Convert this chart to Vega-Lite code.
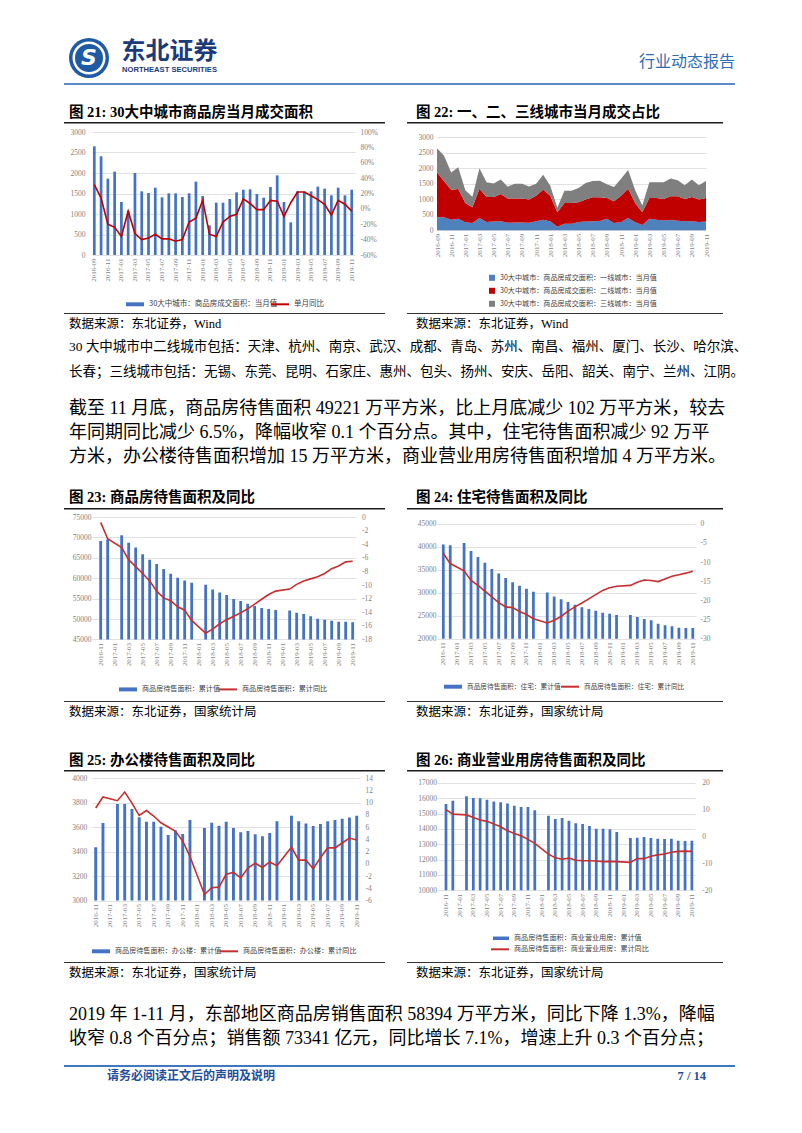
{
"$schema": "https://vega.github.io/schema/vega-lite/v6.json",
"padding": 0,
"background": "white",
"columns": 11,
"spacing": 0,
"align": "each",
"bounds": "flush",
"resolve": {"scale": {"fill": "independent", "stroke": "independent", "color": "independent", "x": "independent", "y": "independent"}, "legend": {"fill": "independent", "stroke": "independent", "color": "independent"}},
"config": {
 "view": {"stroke": null},
 "axis": {"labelFont": "Liberation Serif", "labelFontSize": 7.5, "labelColor": "#7f7f7f", "domain": false, "ticks": false, "gridColor": "#d9d9d9", "gridWidth": 0.8, "labelOverlap": false},
 "legend": {"labelFont": "Noto Sans CJK SC", "labelColor": "#404040", "padding": 0, "labelLimit": 400, "labelFontSize": 7.1}
},
"datasets": {
 "e": [],
 "one": [{}],
 "c21": [{"m":"2016-09","a":2650,"y":31.5},{"m":"2016-10","a":2407,"y":14},{"m":"2016-11","a":1862,"y":-20},{"m":"2016-12","a":2033,"y":-24},{"m":"2017-01","a":1293,"y":-36},{"m":"2017-02","a":1080,"y":-3},{"m":"2017-03","a":2000,"y":-32},{"m":"2017-04","a":1553,"y":-40},{"m":"2017-05","a":1512,"y":-38},{"m":"2017-06","a":1642,"y":-33},{"m":"2017-07","a":1407,"y":-39},{"m":"2017-08","a":1504,"y":-39},{"m":"2017-09","a":1504,"y":-42},{"m":"2017-10","a":1415,"y":-40},{"m":"2017-11","a":1504,"y":-17},{"m":"2017-12","a":1789,"y":-12},{"m":"2018-01","a":1439,"y":11},{"m":"2018-02","a":724,"y":-33},{"m":"2018-03","a":1276,"y":-36},{"m":"2018-04","a":1276,"y":-17},{"m":"2018-05","a":1366,"y":-10},{"m":"2018-06","a":1528,"y":-7},{"m":"2018-07","a":1593,"y":13},{"m":"2018-08","a":1602,"y":7},{"m":"2018-09","a":1488,"y":-1},{"m":"2018-10","a":1398,"y":-1},{"m":"2018-11","a":1659,"y":11},{"m":"2018-12","a":1943,"y":10},{"m":"2019-01","a":1293,"y":-10},{"m":"2019-02","a":797,"y":8},{"m":"2019-03","a":1553,"y":22},{"m":"2019-04","a":1550,"y":22},{"m":"2019-05","a":1553,"y":17},{"m":"2019-06","a":1667,"y":12},{"m":"2019-07","a":1618,"y":6},{"m":"2019-08","a":1455,"y":-8},{"m":"2019-09","a":1642,"y":11},{"m":"2019-10","a":1455,"y":6},{"m":"2019-11","a":1593,"y":-3}],
 "c22": [
{"m":"2016-09","k":1,"t":"一线城市","v":420},{"m":"2016-09","k":2,"t":"二线城市","v":1450},{"m":"2016-09","k":3,"t":"三线城市","v":780},
{"m":"2016-10","k":1,"t":"一线城市","v":420},{"m":"2016-10","k":2,"t":"二线城市","v":1160},{"m":"2016-10","k":3,"t":"三线城市","v":827},
{"m":"2016-11","k":1,"t":"一线城市","v":344},{"m":"2016-11","k":2,"t":"二线城市","v":968},{"m":"2016-11","k":3,"t":"三线城市","v":550},
{"m":"2016-12","k":1,"t":"一线城市","v":376},{"m":"2016-12","k":2,"t":"二线城市","v":957},{"m":"2016-12","k":3,"t":"三线城市","v":700},
{"m":"2017-01","k":1,"t":"一线城市","v":258},{"m":"2017-01","k":2,"t":"二线城市","v":624},{"m":"2017-01","k":3,"t":"三线城市","v":411},
{"m":"2017-02","k":1,"t":"一线城市","v":237},{"m":"2017-02","k":2,"t":"二线城市","v":505},{"m":"2017-02","k":3,"t":"三线城市","v":338},
{"m":"2017-03","k":1,"t":"一线城市","v":398},{"m":"2017-03","k":2,"t":"二线城市","v":946},{"m":"2017-03","k":3,"t":"三线城市","v":656},
{"m":"2017-04","k":1,"t":"一线城市","v":268},{"m":"2017-04","k":2,"t":"二线城市","v":807},{"m":"2017-04","k":3,"t":"三线城市","v":478},
{"m":"2017-05","k":1,"t":"一线城市","v":280},{"m":"2017-05","k":2,"t":"二线城市","v":795},{"m":"2017-05","k":3,"t":"三线城市","v":437},
{"m":"2017-06","k":1,"t":"一线城市","v":290},{"m":"2017-06","k":2,"t":"二线城市","v":882},{"m":"2017-06","k":3,"t":"三线城市","v":470},
{"m":"2017-07","k":1,"t":"一线城市","v":247},{"m":"2017-07","k":2,"t":"二线城市","v":775},{"m":"2017-07","k":3,"t":"三线城市","v":385},
{"m":"2017-08","k":1,"t":"一线城市","v":250},{"m":"2017-08","k":2,"t":"二线城市","v":772},{"m":"2017-08","k":3,"t":"三线城市","v":482},
{"m":"2017-09","k":1,"t":"一线城市","v":250},{"m":"2017-09","k":2,"t":"二线城市","v":772},{"m":"2017-09","k":3,"t":"三线城市","v":482},
{"m":"2017-10","k":1,"t":"一线城市","v":240},{"m":"2017-10","k":2,"t":"二线城市","v":750},{"m":"2017-10","k":3,"t":"三线城市","v":425},
{"m":"2017-11","k":1,"t":"一线城市","v":290},{"m":"2017-11","k":2,"t":"二线城市","v":828},{"m":"2017-11","k":3,"t":"三线城市","v":386},
{"m":"2017-12","k":1,"t":"一线城市","v":344},{"m":"2017-12","k":2,"t":"二线城市","v":968},{"m":"2017-12","k":3,"t":"三线城市","v":477},
{"m":"2018-01","k":1,"t":"一线城市","v":290},{"m":"2018-01","k":2,"t":"二线城市","v":828},{"m":"2018-01","k":3,"t":"三线城市","v":321},
{"m":"2018-02","k":1,"t":"一线城市","v":118},{"m":"2018-02","k":2,"t":"二线城市","v":462},{"m":"2018-02","k":3,"t":"三线城市","v":144},
{"m":"2018-03","k":1,"t":"一线城市","v":215},{"m":"2018-03","k":2,"t":"二线城市","v":667},{"m":"2018-03","k":3,"t":"三线城市","v":394},
{"m":"2018-04","k":1,"t":"一线城市","v":215},{"m":"2018-04","k":2,"t":"二线城市","v":667},{"m":"2018-04","k":3,"t":"三线城市","v":394},
{"m":"2018-05","k":1,"t":"一线城市","v":268},{"m":"2018-05","k":2,"t":"二线城市","v":635},{"m":"2018-05","k":3,"t":"三线城市","v":463},
{"m":"2018-06","k":1,"t":"一线城市","v":280},{"m":"2018-06","k":2,"t":"二线城市","v":710},{"m":"2018-06","k":3,"t":"三线城市","v":538},
{"m":"2018-07","k":1,"t":"一线城市","v":290},{"m":"2018-07","k":2,"t":"二线城市","v":775},{"m":"2018-07","k":3,"t":"三线城市","v":528},
{"m":"2018-08","k":1,"t":"一线城市","v":300},{"m":"2018-08","k":2,"t":"二线城市","v":765},{"m":"2018-08","k":3,"t":"三线城市","v":537},
{"m":"2018-09","k":1,"t":"一线城市","v":376},{"m":"2018-09","k":2,"t":"二线城市","v":667},{"m":"2018-09","k":3,"t":"三线城市","v":445},
{"m":"2018-10","k":1,"t":"一线城市","v":237},{"m":"2018-10","k":2,"t":"二线城市","v":698},{"m":"2018-10","k":3,"t":"三线城市","v":463},
{"m":"2018-11","k":1,"t":"一线城市","v":268},{"m":"2018-11","k":2,"t":"二线城市","v":850},{"m":"2018-11","k":3,"t":"三线城市","v":541},
{"m":"2018-12","k":1,"t":"一线城市","v":398},{"m":"2018-12","k":2,"t":"二线城市","v":946},{"m":"2018-12","k":3,"t":"三线城市","v":599},
{"m":"2019-01","k":1,"t":"一线城市","v":258},{"m":"2019-01","k":2,"t":"二线城市","v":624},{"m":"2019-01","k":3,"t":"三线城市","v":411},
{"m":"2019-02","k":1,"t":"一线城市","v":172},{"m":"2019-02","k":2,"t":"二线城市","v":408},{"m":"2019-02","k":3,"t":"三线城市","v":217},
{"m":"2019-03","k":1,"t":"一线城市","v":376},{"m":"2019-03","k":2,"t":"二线城市","v":667},{"m":"2019-03","k":3,"t":"三线城市","v":510},
{"m":"2019-04","k":1,"t":"一线城市","v":340},{"m":"2019-04","k":2,"t":"二线城市","v":703},{"m":"2019-04","k":3,"t":"三线城市","v":507},
{"m":"2019-05","k":1,"t":"一线城市","v":320},{"m":"2019-05","k":2,"t":"二线城市","v":690},{"m":"2019-05","k":3,"t":"三线城市","v":543},
{"m":"2019-06","k":1,"t":"一线城市","v":330},{"m":"2019-06","k":2,"t":"二线城市","v":767},{"m":"2019-06","k":3,"t":"三线城市","v":570},
{"m":"2019-07","k":1,"t":"一线城市","v":310},{"m":"2019-07","k":2,"t":"二线城市","v":787},{"m":"2019-07","k":3,"t":"三线城市","v":521},
{"m":"2019-08","k":1,"t":"一线城市","v":290},{"m":"2019-08","k":2,"t":"二线城市","v":720},{"m":"2019-08","k":3,"t":"三线城市","v":445},
{"m":"2019-09","k":1,"t":"一线城市","v":290},{"m":"2019-09","k":2,"t":"二线城市","v":785},{"m":"2019-09","k":3,"t":"三线城市","v":567},
{"m":"2019-10","k":1,"t":"一线城市","v":270},{"m":"2019-10","k":2,"t":"二线城市","v":720},{"m":"2019-10","k":3,"t":"三线城市","v":465},
{"m":"2019-11","k":1,"t":"一线城市","v":280},{"m":"2019-11","k":2,"t":"二线城市","v":763},{"m":"2019-11","k":3,"t":"三线城市","v":550}],
 "c23": [{"m":"2016-11","v":69113,"y":-0.8},{"m":"2016-12","v":69539,"y":-3.2},{"m":"2017-02","v":70500,"y":-4.5},{"m":"2017-03","v":68700,"y":-6.3},{"m":"2017-04","v":67500,"y":-7.3},{"m":"2017-05","v":65900,"y":-8.3},{"m":"2017-06","v":64500,"y":-9.4},{"m":"2017-07","v":63500,"y":-10.9},{"m":"2017-08","v":62250,"y":-11.9},{"m":"2017-09","v":61100,"y":-12.3},{"m":"2017-10","v":60100,"y":-13.2},{"m":"2017-11","v":59450,"y":-13.7},{"m":"2017-12","v":58900,"y":-15.2},{"m":"2018-02","v":58400,"y":-17.1},{"m":"2018-03","v":57200,"y":-16.5},{"m":"2018-04","v":56500,"y":-15.7},{"m":"2018-05","v":55900,"y":-15.1},{"m":"2018-06","v":54900,"y":-14.6},{"m":"2018-07","v":54400,"y":-14.1},{"m":"2018-08","v":53750,"y":-13.5},{"m":"2018-09","v":53200,"y":-12.8},{"m":"2018-10","v":52700,"y":-12.1},{"m":"2018-11","v":52450,"y":-11.4},{"m":"2018-12","v":52200,"y":-10.9},{"m":"2019-02","v":52100,"y":-10.6},{"m":"2019-03","v":51550,"y":-9.9},{"m":"2019-04","v":51200,"y":-9.4},{"m":"2019-05","v":50700,"y":-9.1},{"m":"2019-06","v":50050,"y":-8.8},{"m":"2019-07","v":49800,"y":-8.3},{"m":"2019-08","v":49550,"y":-7.6},{"m":"2019-09","v":49300,"y":-7.2},{"m":"2019-10","v":49323,"y":-6.6},{"m":"2019-11","v":49221,"y":-6.5}],
 "c24": [{"m":"2016-11","v":40500,"y":-7.7},{"m":"2016-12","v":40290,"y":-10.4},{"m":"2017-02","v":40800,"y":-12.3},{"m":"2017-03","v":39060,"y":-14.8},{"m":"2017-04","v":37750,"y":-16.1},{"m":"2017-05","v":36520,"y":-17.6},{"m":"2017-06","v":35140,"y":-19.1},{"m":"2017-07","v":34200,"y":-20.6},{"m":"2017-08","v":33190,"y":-21.7},{"m":"2017-09","v":32250,"y":-21.9},{"m":"2017-10","v":31520,"y":-22.9},{"m":"2017-11","v":30870,"y":-23.7},{"m":"2017-12","v":30220,"y":-24.8},{"m":"2018-02","v":30070,"y":-25.9},{"m":"2018-03","v":29200,"y":-25.2},{"m":"2018-04","v":28550,"y":-24.2},{"m":"2018-05","v":27970,"y":-22.8},{"m":"2018-06","v":27390,"y":-21.7},{"m":"2018-07","v":26810,"y":-20.7},{"m":"2018-08","v":26450,"y":-19.6},{"m":"2018-09","v":26090,"y":-18.5},{"m":"2018-10","v":25650,"y":-17.4},{"m":"2018-11","v":25430,"y":-16.7},{"m":"2018-12","v":25140,"y":-16.3},{"m":"2019-02","v":25140,"y":-16.1},{"m":"2019-03","v":24710,"y":-15.3},{"m":"2019-04","v":24280,"y":-14.7},{"m":"2019-05","v":23990,"y":-14.8},{"m":"2019-06","v":23260,"y":-15.1},{"m":"2019-07","v":22900,"y":-14.4},{"m":"2019-08","v":22680,"y":-13.7},{"m":"2019-09","v":22390,"y":-13.3},{"m":"2019-10","v":22320,"y":-12.9},{"m":"2019-11","v":22300,"y":-12.4}],
 "c25": [{"m":"2016-11","v":3435,"y":9.1},{"m":"2016-12","v":3633,"y":10.9},{"m":"2017-02","v":3788,"y":10.3},{"m":"2017-03","v":3788,"y":11.7},{"m":"2017-04","v":3747,"y":9.9},{"m":"2017-05","v":3679,"y":7.9},{"m":"2017-06","v":3644,"y":8.7},{"m":"2017-07","v":3644,"y":7.8},{"m":"2017-08","v":3603,"y":6.7},{"m":"2017-09","v":3535,"y":6.0},{"m":"2017-10","v":3571,"y":5.3},{"m":"2017-11","v":3543,"y":3.7},{"m":"2017-12","v":3658,"y":1.2},{"m":"2018-02","v":3592,"y":-5.0},{"m":"2018-03","v":3636,"y":-3.9},{"m":"2018-04","v":3611,"y":-3.8},{"m":"2018-05","v":3644,"y":-1.7},{"m":"2018-06","v":3592,"y":-1.4},{"m":"2018-07","v":3557,"y":-2.3},{"m":"2018-08","v":3568,"y":-0.7},{"m":"2018-09","v":3541,"y":0.1},{"m":"2018-10","v":3524,"y":-0.6},{"m":"2018-11","v":3552,"y":0.3},{"m":"2018-12","v":3647,"y":-0.3},{"m":"2019-02","v":3693,"y":2.7},{"m":"2019-03","v":3647,"y":0.6},{"m":"2019-04","v":3628,"y":0.6},{"m":"2019-05","v":3609,"y":-0.8},{"m":"2019-06","v":3625,"y":1.0},{"m":"2019-07","v":3647,"y":2.6},{"m":"2019-08","v":3658,"y":2.6},{"m":"2019-09","v":3668,"y":3.4},{"m":"2019-10","v":3677,"y":4.2},{"m":"2019-11","v":3693,"y":3.9}],
 "c26": [{"m":"2016-11","v":15630,"y":10.1},{"m":"2016-12","v":15850,"y":8.4},{"m":"2017-02","v":16130,"y":8.1},{"m":"2017-03","v":16020,"y":7.1},{"m":"2017-04","v":16000,"y":6.2},{"m":"2017-05","v":15910,"y":5.7},{"m":"2017-06","v":15800,"y":4.7},{"m":"2017-07","v":15740,"y":3.7},{"m":"2017-08","v":15670,"y":2.2},{"m":"2017-09","v":15520,"y":1.2},{"m":"2017-10","v":15430,"y":0.3},{"m":"2017-11","v":15430,"y":-1.0},{"m":"2017-12","v":15220,"y":-2.5},{"m":"2018-02","v":14870,"y":-6.5},{"m":"2018-03","v":14650,"y":-7.9},{"m":"2018-04","v":14720,"y":-8.4},{"m":"2018-05","v":14540,"y":-8.0},{"m":"2018-06","v":14370,"y":-8.8},{"m":"2018-07","v":14330,"y":-9.0},{"m":"2018-08","v":14200,"y":-9.0},{"m":"2018-09","v":14020,"y":-9.1},{"m":"2018-10","v":14020,"y":-9.3},{"m":"2018-11","v":13980,"y":-9.2},{"m":"2018-12","v":13800,"y":-9.3},{"m":"2019-02","v":13410,"y":-9.6},{"m":"2019-03","v":13430,"y":-8.2},{"m":"2019-04","v":13480,"y":-8.2},{"m":"2019-05","v":13410,"y":-7.3},{"m":"2019-06","v":13370,"y":-6.8},{"m":"2019-07","v":13350,"y":-6.5},{"m":"2019-08","v":13370,"y":-5.8},{"m":"2019-09","v":13240,"y":-5.5},{"m":"2019-10","v":13220,"y":-5.4},{"m":"2019-11","v":13240,"y":-5.5}]
},
"concat": [
{"width":64,"height":60,"data":{"name":"e"},"mark":"point"},
{"width":1,"height":1,"data":{"name":"e"},"mark":"point"},
{"width":20,"height":58,"data":{"name":"one"},
 "encoding":{"x":{"datum":1,"type":"quantitative","scale":{"domain":[0,1]},"axis":null},"y":{"datum":0,"type":"quantitative","scale":{"domain":[0,1]},"axis":null}},
 "layer":[
  {"mark":{"type":"point","shape":"circle","filled":true,"size":1600,"color":"#1f5aa6","opacity":1}},
  {"mark":{"type":"point","shape":"circle","filled":false,"size":930,"stroke":"#ffffff","strokeWidth":2.5,"opacity":1}},
  {"mark":{"type":"text","text":"S","font":"DejaVu Sans","fontSize":22,"fontWeight":"bold","fontStyle":"italic","color":"#ffffff","align":"center","baseline":"middle"}}
 ]},
{"width":155,"height":52,"data":{"name":"one"},"mark":{"type":"text","text":"东北证券","align":"center","baseline":"middle","font":"Noto Sans CJK SC","fontSize":24,"fontWeight":"bold","color":"#1c3a78"},"encoding":{"x":{"datum":0.5,"type":"quantitative","scale":{"domain":[0,1]},"axis":null},"y":{"datum":0,"type":"quantitative","scale":{"domain":[0,1]},"axis":null}}},
{"width":1,"height":1,"data":{"name":"e"},"mark":"point"},
{"width":1,"height":1,"data":{"name":"e"},"mark":"point"},
{"width":1,"height":1,"data":{"name":"e"},"mark":"point"},
{"width":1,"height":1,"data":{"name":"e"},"mark":"point"},
{"width":1,"height":1,"data":{"name":"e"},"mark":"point"},
{"width":1,"height":1,"data":{"name":"e"},"mark":"point"},
{"width":1,"height":1,"data":{"name":"e"},"mark":"point"},

{"width":1,"height":23,"data":{"name":"e"},"mark":"point"},
{"width":1,"height":1,"data":{"name":"e"},"mark":"point"},
{"width":1,"height":1,"data":{"name":"e"},"mark":"point"},
{"width":155,"height":9.5,"data":{"name":"one"},"mark":{"type":"text","text":"NORTHEAST SECURITIES","align":"center","baseline":"middle","font":"Liberation Sans","fontSize":7.6,"fontWeight":"bold","color":"#1c3a78"},"encoding":{"x":{"datum":0.5,"type":"quantitative","scale":{"domain":[0,1]},"axis":null},"y":{"datum":0,"type":"quantitative","scale":{"domain":[0,1]},"axis":null}}},
{"width":1,"height":1,"data":{"name":"e"},"mark":"point"},
{"width":1,"height":1,"data":{"name":"e"},"mark":"point"},
{"width":1,"height":1,"data":{"name":"e"},"mark":"point"},
{"width":1,"height":1,"data":{"name":"e"},"mark":"point"},
{"width":1,"height":1,"data":{"name":"e"},"mark":"point"},
{"width":1,"height":1,"data":{"name":"e"},"mark":"point"},
{"width":12,"height":2,"data":{"name":"one"},"mark":{"type":"text","text":"行业动态报告","align":"right","baseline":"middle","font":"Noto Sans CJK SC","fontSize":16,"color":"#2f6cb3"},"encoding":{"x":{"datum":1,"type":"quantitative","scale":{"domain":[0,1]},"axis":null},"y":{"datum":0,"type":"quantitative","scale":{"domain":[0,1]},"axis":null}}},

{"width":1,"height":2,"data":{"name":"e"},"mark":"point"},
{"width":5,"height":2,"view":{"fill":"#5a8ac6","stroke":null},"data":{"name":"e"},"mark":"point"},
{"width":23,"height":2,"view":{"fill":"#5a8ac6","stroke":null},"data":{"name":"e"},"mark":"point"},
{"width":268,"height":2,"view":{"fill":"#5a8ac6","stroke":null},"data":{"name":"e"},"mark":"point"},
{"width":25,"height":2,"view":{"fill":"#5a8ac6","stroke":null},"data":{"name":"e"},"mark":"point"},
{"width":22,"height":2,"view":{"fill":"#5a8ac6","stroke":null},"data":{"name":"e"},"mark":"point"},
{"width":9,"height":2,"view":{"fill":"#5a8ac6","stroke":null},"data":{"name":"e"},"mark":"point"},
{"width":21,"height":2,"view":{"fill":"#5a8ac6","stroke":null},"data":{"name":"e"},"mark":"point"},
{"width":269,"height":2,"view":{"fill":"#5a8ac6","stroke":null},"data":{"name":"e"},"mark":"point"},
{"width":17,"height":2,"view":{"fill":"#5a8ac6","stroke":null},"data":{"name":"e"},"mark":"point"},
{"width":12,"height":2,"view":{"fill":"#5a8ac6","stroke":null},"data":{"name":"e"},"mark":"point"},

{"width":1,"height":37,"data":{"name":"e"},"mark":"point"},
{"width":1,"height":1,"data":{"name":"e"},"mark":"point"},
{"width":1,"height":27.5,"data":{"name":"one"},"mark":{"type":"text","text":"图 21:  30大中城市商品房当月成交面积","align":"left","baseline":"middle","font":"Liberation Serif, Noto Sans CJK SC","fontSize":14.5,"fontWeight":"bold","color":"#000000"},"encoding":{"x":{"datum":0,"type":"quantitative","scale":{"domain":[0,1]},"axis":null},"y":{"datum":0,"type":"quantitative","scale":{"domain":[0,1]},"axis":null}}},
{"width":1,"height":1,"data":{"name":"e"},"mark":"point"},
{"width":1,"height":1,"data":{"name":"e"},"mark":"point"},
{"width":1,"height":1,"data":{"name":"e"},"mark":"point"},
{"width":1,"height":1,"data":{"name":"e"},"mark":"point"},
{"width":1,"height":27.5,"data":{"name":"one"},"mark":{"type":"text","text":"图 22:  一、二、三线城市当月成交占比","align":"left","baseline":"middle","font":"Liberation Serif, Noto Sans CJK SC","fontSize":14.5,"fontWeight":"bold","color":"#000000"},"encoding":{"x":{"datum":0,"type":"quantitative","scale":{"domain":[0,1]},"axis":null},"y":{"datum":0,"type":"quantitative","scale":{"domain":[0,1]},"axis":null}}},
{"width":1,"height":1,"data":{"name":"e"},"mark":"point"},
{"width":1,"height":1,"data":{"name":"e"},"mark":"point"},
{"width":1,"height":1,"data":{"name":"e"},"mark":"point"},

{"width":1,"height":1.5,"data":{"name":"e"},"mark":"point"},
{"width":5,"height":1.5,"view":{"fill":"#1a1a1a","stroke":null},"data":{"name":"e"},"mark":"point"},
{"width":23,"height":1.5,"view":{"fill":"#1a1a1a","stroke":null},"data":{"name":"e"},"mark":"point"},
{"width":268,"height":1.5,"view":{"fill":"#1a1a1a","stroke":null},"data":{"name":"e"},"mark":"point"},
{"width":25,"height":1.5,"view":{"fill":"#1a1a1a","stroke":null},"data":{"name":"e"},"mark":"point"},
{"width":1,"height":1,"data":{"name":"e"},"mark":"point"},
{"width":9,"height":1.5,"view":{"fill":"#1a1a1a","stroke":null},"data":{"name":"e"},"mark":"point"},
{"width":21,"height":1.5,"view":{"fill":"#1a1a1a","stroke":null},"data":{"name":"e"},"mark":"point"},
{"width":269,"height":1.5,"view":{"fill":"#1a1a1a","stroke":null},"data":{"name":"e"},"mark":"point"},
{"width":17,"height":1.5,"view":{"fill":"#1a1a1a","stroke":null},"data":{"name":"e"},"mark":"point"},
{"width":1,"height":1,"data":{"name":"e"},"mark":"point"},

{"width":1,"height":7.2,"data":{"name":"e"},"mark":"point"},
{"width":1,"height":1,"data":{"name":"e"},"mark":"point"},
{"width":1,"height":1,"data":{"name":"e"},"mark":"point"},
{"width":1,"height":1,"data":{"name":"e"},"mark":"point"},
{"width":1,"height":1,"data":{"name":"e"},"mark":"point"},
{"width":1,"height":1,"data":{"name":"e"},"mark":"point"},
{"width":1,"height":1,"data":{"name":"e"},"mark":"point"},
{"width":1,"height":1,"data":{"name":"e"},"mark":"point"},
{"width":1,"height":1,"data":{"name":"e"},"mark":"point"},
{"width":1,"height":1,"data":{"name":"e"},"mark":"point"},
{"width":1,"height":1,"data":{"name":"e"},"mark":"point"},

{"width":1,"height":123,"data":{"name":"e"},"mark":"point"},
{"width":1,"height":1,"data":{"name":"e"},"mark":"point"},
{"width":1,"height":1,"data":{"name":"e"},"mark":"point"},
{"width":263,"height":123,"data":{"name":"c21"},
 "layer":[
  {"mark":{"type":"bar","clip":true},
   "encoding":{
    "x":{"field":"m","type":"ordinal","title":null,"scale":{"paddingInner":0.6,"paddingOuter":0.213,"align":0.33},"axis":{"values":["2016-09","2016-11","2017-01","2017-03","2017-05","2017-07","2017-09","2017-11","2018-01","2018-03","2018-05","2018-07","2018-09","2018-11","2019-01","2019-03","2019-05","2019-07","2019-09","2019-11"],"labelAngle":270,"labelPadding":3,"labelFontSize":7}},
    "y":{"field":"a","type":"quantitative","title":null,"scale":{"domain":[0,3000],"nice":false},"axis":{"values":[0,500,1000,1500,2000,2500,3000],"grid":true,"labelExpr":"datum.value + ''","labelPadding":7}},
    "fill":{"datum":"30大中城市：商品房成交面积：当月值","scale":{"range":["#4472c4"]},"legend":{"title":null,"orient":"none","legendX":33,"legendY":162.3,"symbolType":"M-1,-0.22H1V0.22H-1Z","symbolSize":324,"labelFontSize":7.5}}
   }},
  {"mark":{"type":"line","strokeWidth":1.6},
   "encoding":{
    "x":{"field":"m","type":"ordinal","title":null},
    "y":{"field":"y","type":"quantitative","title":null,"scale":{"domain":[-60,100],"nice":false,"zero":false},"axis":{"orient":"right","values":[-60,-40,-20,0,20,40,60,80,100],"labelExpr":"datum.value + '%'","labelPadding":5}},
    "stroke":{"datum":"单月同比","scale":{"range":["#c00000"]},"legend":{"title":null,"orient":"none","legendX":178,"legendY":162.3,"symbolType":"stroke","symbolSize":324,"symbolStrokeWidth":2,"labelFontSize":7.5}}
   }}
 ],
 "resolve":{"scale":{"y":"independent"}}},
{"width":1,"height":1,"data":{"name":"e"},"mark":"point"},
{"width":1,"height":1,"data":{"name":"e"},"mark":"point"},
{"width":1,"height":1,"data":{"name":"e"},"mark":"point"},
{"width":1,"height":1,"data":{"name":"e"},"mark":"point"},
{"width":269,"height":98.3,"data":{"name":"c22"},
 "mark":{"type":"area"},
 "encoding":{
  "x":{"field":"m","type":"ordinal","title":null,"scale":{"type":"point","padding":0},"axis":{"values":["2016-09","2016-11","2017-01","2017-03","2017-05","2017-07","2017-09","2017-11","2018-01","2018-03","2018-05","2018-07","2018-09","2018-11","2019-01","2019-03","2019-05","2019-07","2019-09","2019-11"],"labelAngle":270,"labelPadding":3,"labelFontSize":7}},
  "y":{"field":"v","type":"quantitative","stack":"zero","title":null,"scale":{"domain":[0,3171],"nice":false},"axis":{"values":[0,500,1000,1500,2000,2500,3000],"grid":true,"labelExpr":"datum.value + ''","labelPadding":4}},
  "color":{"field":"t","type":"nominal","scale":{"domain":["一线城市","二线城市","三线城市"],"range":["#4f81bd","#c00000","#7f7f7f"]},"legend":{"title":null,"orient":"none","direction":"vertical","legendX":51,"legendY":141.8,"symbolType":"square","symbolSize":36,"rowPadding":5,"labelExpr":"'30大中城市：商品房成交面积：' + datum.label + '：当月值'"}},
  "order":{"field":"k","type":"quantitative"}
 }},
{"width":1,"height":1,"data":{"name":"e"},"mark":"point"},
{"width":1,"height":1,"data":{"name":"e"},"mark":"point"},

{"width":1,"height":57.3,"data":{"name":"e"},"mark":"point"},
{"width":1,"height":1,"data":{"name":"e"},"mark":"point"},
{"width":1,"height":1,"data":{"name":"e"},"mark":"point"},
{"width":1,"height":1,"data":{"name":"e"},"mark":"point"},
{"width":1,"height":1,"data":{"name":"e"},"mark":"point"},
{"width":1,"height":1,"data":{"name":"e"},"mark":"point"},
{"width":1,"height":1,"data":{"name":"e"},"mark":"point"},
{"width":1,"height":1,"data":{"name":"e"},"mark":"point"},
{"width":1,"height":1,"data":{"name":"e"},"mark":"point"},
{"width":1,"height":1,"data":{"name":"e"},"mark":"point"},
{"width":1,"height":1,"data":{"name":"e"},"mark":"point"},

{"width":1,"height":1,"data":{"name":"e"},"mark":"point"},
{"width":5,"height":1,"view":{"fill":"#333333","stroke":null},"data":{"name":"e"},"mark":"point"},
{"width":23,"height":1,"view":{"fill":"#333333","stroke":null},"data":{"name":"e"},"mark":"point"},
{"width":268,"height":1,"view":{"fill":"#333333","stroke":null},"data":{"name":"e"},"mark":"point"},
{"width":25,"height":1,"view":{"fill":"#333333","stroke":null},"data":{"name":"e"},"mark":"point"},
{"width":1,"height":1,"data":{"name":"e"},"mark":"point"},
{"width":9,"height":1,"view":{"fill":"#333333","stroke":null},"data":{"name":"e"},"mark":"point"},
{"width":21,"height":1,"view":{"fill":"#333333","stroke":null},"data":{"name":"e"},"mark":"point"},
{"width":269,"height":1,"view":{"fill":"#333333","stroke":null},"data":{"name":"e"},"mark":"point"},
{"width":17,"height":1,"view":{"fill":"#333333","stroke":null},"data":{"name":"e"},"mark":"point"},
{"width":1,"height":1,"data":{"name":"e"},"mark":"point"},

{"width":1,"height":33,"data":{"name":"e"},"mark":"point"},
{"width":1,"height":1,"data":{"name":"e"},"mark":"point"},
{"width":1,"height":10.25,"data":{"name":"one"},"mark":{"type":"text","text":"数据来源：东北证券，Wind","align":"left","baseline":"middle","font":"Liberation Serif, Noto Sans CJK SC","fontSize":12.5,"color":"#000000"},"encoding":{"x":{"datum":0,"type":"quantitative","scale":{"domain":[0,1]},"axis":null},"y":{"datum":0,"type":"quantitative","scale":{"domain":[0,1]},"axis":null}}},
{"width":1,"height":1,"data":{"name":"e"},"mark":"point"},
{"width":1,"height":1,"data":{"name":"e"},"mark":"point"},
{"width":1,"height":1,"data":{"name":"e"},"mark":"point"},
{"width":1,"height":1,"data":{"name":"e"},"mark":"point"},
{"width":1,"height":10.25,"data":{"name":"one"},"mark":{"type":"text","text":"数据来源：东北证券，Wind","align":"left","baseline":"middle","font":"Liberation Serif, Noto Sans CJK SC","fontSize":12.5,"color":"#000000"},"encoding":{"x":{"datum":0,"type":"quantitative","scale":{"domain":[0,1]},"axis":null},"y":{"datum":0,"type":"quantitative","scale":{"domain":[0,1]},"axis":null}}},
{"width":1,"height":1,"data":{"name":"e"},"mark":"point"},
{"width":1,"height":1,"data":{"name":"e"},"mark":"point"},
{"width":1,"height":1,"data":{"name":"e"},"mark":"point"},

{"width":1,"height":50,"data":{"name":"e"},"mark":"point"},
{"width":1,"height":1,"data":{"name":"e"},"mark":"point"},
{"width":1,"height":1,"data":{"name":"one"},"mark":{"type":"text","text":["30 大中城市中二线城市包括：天津、杭州、南京、武汉、成都、青岛、苏州、南昌、福州、厦门、长沙、哈尔滨、","长春；三线城市包括：无锡、东莞、昆明、石家庄、惠州、包头、扬州、安庆、岳阳、韶关、南宁、兰州、江阴。"],"lineHeight":25,"align":"left","baseline":"middle","font":"Liberation Serif, Noto Sans CJK SC","fontSize":13.5,"color":"#000000"},"encoding":{"x":{"datum":0,"type":"quantitative","scale":{"domain":[0,1]},"axis":null},"y":{"datum":1,"type":"quantitative","scale":{"domain":[0,1]},"axis":null}}},
{"width":1,"height":1,"data":{"name":"e"},"mark":"point"},
{"width":1,"height":1,"data":{"name":"e"},"mark":"point"},
{"width":1,"height":1,"data":{"name":"e"},"mark":"point"},
{"width":1,"height":1,"data":{"name":"e"},"mark":"point"},
{"width":1,"height":1,"data":{"name":"e"},"mark":"point"},
{"width":1,"height":1,"data":{"name":"e"},"mark":"point"},
{"width":1,"height":1,"data":{"name":"e"},"mark":"point"},
{"width":1,"height":1,"data":{"name":"e"},"mark":"point"},

{"width":1,"height":95,"data":{"name":"e"},"mark":"point"},
{"width":1,"height":1,"data":{"name":"e"},"mark":"point"},
{"width":1,"height":12,"data":{"name":"one"},"mark":{"type":"text","text":["截至 11 月底，商品房待售面积 49221 万平方米，比上月底减少 102 万平方米，较去","年同期同比减少 6.5%，降幅收窄 0.1 个百分点。其中，住宅待售面积减少 92 万平","方米，办公楼待售面积增加 15 万平方米，商业营业用房待售面积增加 4 万平方米。"],"lineHeight":24,"align":"left","baseline":"middle","font":"Liberation Serif, Noto Sans CJK SC","fontSize":18,"color":"#000000"},"encoding":{"x":{"datum":0,"type":"quantitative","scale":{"domain":[0,1]},"axis":null},"y":{"datum":0,"type":"quantitative","scale":{"domain":[0,1]},"axis":null}}},
{"width":1,"height":1,"data":{"name":"e"},"mark":"point"},
{"width":1,"height":1,"data":{"name":"e"},"mark":"point"},
{"width":1,"height":1,"data":{"name":"e"},"mark":"point"},
{"width":1,"height":1,"data":{"name":"e"},"mark":"point"},
{"width":1,"height":1,"data":{"name":"e"},"mark":"point"},
{"width":1,"height":1,"data":{"name":"e"},"mark":"point"},
{"width":1,"height":1,"data":{"name":"e"},"mark":"point"},
{"width":1,"height":1,"data":{"name":"e"},"mark":"point"},

{"width":1,"height":15.5,"data":{"name":"e"},"mark":"point"},
{"width":1,"height":1,"data":{"name":"e"},"mark":"point"},
{"width":1,"height":5.5,"data":{"name":"one"},"mark":{"type":"text","text":"图 23:  商品房待售面积及同比","align":"left","baseline":"middle","font":"Liberation Serif, Noto Sans CJK SC","fontSize":14.5,"fontWeight":"bold","color":"#000000"},"encoding":{"x":{"datum":0,"type":"quantitative","scale":{"domain":[0,1]},"axis":null},"y":{"datum":0,"type":"quantitative","scale":{"domain":[0,1]},"axis":null}}},
{"width":1,"height":1,"data":{"name":"e"},"mark":"point"},
{"width":1,"height":1,"data":{"name":"e"},"mark":"point"},
{"width":1,"height":1,"data":{"name":"e"},"mark":"point"},
{"width":1,"height":1,"data":{"name":"e"},"mark":"point"},
{"width":1,"height":5.5,"data":{"name":"one"},"mark":{"type":"text","text":"图 24:  住宅待售面积及同比","align":"left","baseline":"middle","font":"Liberation Serif, Noto Sans CJK SC","fontSize":14.5,"fontWeight":"bold","color":"#000000"},"encoding":{"x":{"datum":0,"type":"quantitative","scale":{"domain":[0,1]},"axis":null},"y":{"datum":0,"type":"quantitative","scale":{"domain":[0,1]},"axis":null}}},
{"width":1,"height":1,"data":{"name":"e"},"mark":"point"},
{"width":1,"height":1,"data":{"name":"e"},"mark":"point"},
{"width":1,"height":1,"data":{"name":"e"},"mark":"point"},

{"width":1,"height":1.5,"data":{"name":"e"},"mark":"point"},
{"width":5,"height":1.5,"view":{"fill":"#1a1a1a","stroke":null},"data":{"name":"e"},"mark":"point"},
{"width":23,"height":1.5,"view":{"fill":"#1a1a1a","stroke":null},"data":{"name":"e"},"mark":"point"},
{"width":268,"height":1.5,"view":{"fill":"#1a1a1a","stroke":null},"data":{"name":"e"},"mark":"point"},
{"width":25,"height":1.5,"view":{"fill":"#1a1a1a","stroke":null},"data":{"name":"e"},"mark":"point"},
{"width":1,"height":1,"data":{"name":"e"},"mark":"point"},
{"width":9,"height":1.5,"view":{"fill":"#1a1a1a","stroke":null},"data":{"name":"e"},"mark":"point"},
{"width":21,"height":1.5,"view":{"fill":"#1a1a1a","stroke":null},"data":{"name":"e"},"mark":"point"},
{"width":269,"height":1.5,"view":{"fill":"#1a1a1a","stroke":null},"data":{"name":"e"},"mark":"point"},
{"width":17,"height":1.5,"view":{"fill":"#1a1a1a","stroke":null},"data":{"name":"e"},"mark":"point"},
{"width":1,"height":1,"data":{"name":"e"},"mark":"point"},

{"width":1,"height":6.3,"data":{"name":"e"},"mark":"point"},
{"width":1,"height":1,"data":{"name":"e"},"mark":"point"},
{"width":1,"height":1,"data":{"name":"e"},"mark":"point"},
{"width":1,"height":1,"data":{"name":"e"},"mark":"point"},
{"width":1,"height":1,"data":{"name":"e"},"mark":"point"},
{"width":1,"height":1,"data":{"name":"e"},"mark":"point"},
{"width":1,"height":1,"data":{"name":"e"},"mark":"point"},
{"width":1,"height":1,"data":{"name":"e"},"mark":"point"},
{"width":1,"height":1,"data":{"name":"e"},"mark":"point"},
{"width":1,"height":1,"data":{"name":"e"},"mark":"point"},
{"width":1,"height":1,"data":{"name":"e"},"mark":"point"},

{"width":1,"height":122.4,"data":{"name":"e"},"mark":"point"},
{"width":1,"height":1,"data":{"name":"e"},"mark":"point"},
{"width":1,"height":1,"data":{"name":"e"},"mark":"point"},
{"width":264,"height":122.4,"data":{"name":"c23"},
 "layer":[
  {"mark":{"type":"bar","clip":true},
   "encoding":{
    "x":{"field":"m","type":"ordinal","title":null,"scale":{"domain":["2016-11","2016-12","2017-01","2017-02","2017-03","2017-04","2017-05","2017-06","2017-07","2017-08","2017-09","2017-10","2017-11","2017-12","2018-01","2018-02","2018-03","2018-04","2018-05","2018-06","2018-07","2018-08","2018-09","2018-10","2018-11","2018-12","2019-01","2019-02","2019-03","2019-04","2019-05","2019-06","2019-07","2019-08","2019-09","2019-10","2019-11"],"paddingInner":0.6,"paddingOuter":0.657,"align":0.79},"axis":{"values":["2016-11","2017-01","2017-03","2017-05","2017-07","2017-09","2017-11","2018-01","2018-03","2018-05","2018-07","2018-09","2018-11","2019-01","2019-03","2019-05","2019-07","2019-09","2019-11"],"labelAngle":270,"labelPadding":3,"labelFontSize":7}},
    "y":{"field":"v","type":"quantitative","title":null,"scale":{"domain":[45000,75000],"nice":false,"zero":false},"axis":{"values":[45000,50000,55000,60000,65000,70000,75000],"grid":true,"labelExpr":"datum.value + ''","labelPadding":1}},
    "fill":{"datum":"商品房待售面积：累计值","scale":{"range":["#4472c4"]},"legend":{"title":null,"orient":"none","legendX":26,"legendY":162.4,"symbolType":"M-1,-0.22H1V0.22H-1Z","symbolSize":324}}
   }},
  {"mark":{"type":"line","strokeWidth":1.6},
   "encoding":{
    "x":{"field":"m","type":"ordinal","title":null,"scale":{"domain":["2016-11","2016-12","2017-01","2017-02","2017-03","2017-04","2017-05","2017-06","2017-07","2017-08","2017-09","2017-10","2017-11","2017-12","2018-01","2018-02","2018-03","2018-04","2018-05","2018-06","2018-07","2018-08","2018-09","2018-10","2018-11","2018-12","2019-01","2019-02","2019-03","2019-04","2019-05","2019-06","2019-07","2019-08","2019-09","2019-10","2019-11"],"paddingInner":0.6,"paddingOuter":0.657,"align":0.79}},
    "y":{"field":"y","type":"quantitative","title":null,"scale":{"domain":[-18,0],"nice":false,"zero":false},"axis":{"orient":"right","values":[-18,-16,-14,-12,-10,-8,-6,-4,-2,0],"labelExpr":"datum.value + ''","labelPadding":5.5}},
    "stroke":{"datum":"商品房待售面积：累计同比","scale":{"range":["#c62f2f"]},"legend":{"title":null,"orient":"none","legendX":126,"legendY":162.4,"symbolType":"stroke","symbolSize":324,"symbolStrokeWidth":2}}
   }}
 ],
 "resolve":{"scale":{"y":"independent"}}},
{"width":1,"height":1,"data":{"name":"e"},"mark":"point"},
{"width":1,"height":1,"data":{"name":"e"},"mark":"point"},
{"width":1,"height":1,"data":{"name":"e"},"mark":"point"},
{"width":1,"height":1,"data":{"name":"e"},"mark":"point"},
{"width":259,"height":121.7,"data":{"name":"c24"},
 "layer":[
  {"mark":{"type":"bar","clip":true},
   "encoding":{
    "x":{"field":"m","type":"ordinal","title":null,"scale":{"domain":["2016-11","2016-12","2017-01","2017-02","2017-03","2017-04","2017-05","2017-06","2017-07","2017-08","2017-09","2017-10","2017-11","2017-12","2018-01","2018-02","2018-03","2018-04","2018-05","2018-06","2018-07","2018-08","2018-09","2018-10","2018-11","2018-12","2019-01","2019-02","2019-03","2019-04","2019-05","2019-06","2019-07","2019-08","2019-09","2019-10","2019-11"],"paddingInner":0.6,"paddingOuter":0.487,"align":0.728},"axis":{"values":["2016-11","2017-01","2017-03","2017-05","2017-07","2017-09","2017-11","2018-01","2018-03","2018-05","2018-07","2018-09","2018-11","2019-01","2019-03","2019-05","2019-07","2019-09","2019-11"],"labelAngle":270,"labelPadding":3,"labelFontSize":7}},
    "y":{"field":"v","type":"quantitative","title":null,"scale":{"domain":[20000,46457],"nice":false,"zero":false},"axis":{"values":[20000,25000,30000,35000,40000,45000],"grid":true,"labelExpr":"datum.value + ''","labelPadding":1}},
    "fill":{"datum":"商品房待售面积：住宅：累计值","scale":{"range":["#4472c4"]},"legend":{"title":null,"orient":"none","legendX":6,"legendY":159.7,"symbolType":"M-1,-0.22H1V0.22H-1Z","symbolSize":324,"labelFontSize":6.7}}
   }},
  {"mark":{"type":"line","strokeWidth":1.6},
   "encoding":{
    "x":{"field":"m","type":"ordinal","title":null,"scale":{"domain":["2016-11","2016-12","2017-01","2017-02","2017-03","2017-04","2017-05","2017-06","2017-07","2017-08","2017-09","2017-10","2017-11","2017-12","2018-01","2018-02","2018-03","2018-04","2018-05","2018-06","2018-07","2018-08","2018-09","2018-10","2018-11","2018-12","2019-01","2019-02","2019-03","2019-04","2019-05","2019-06","2019-07","2019-08","2019-09","2019-10","2019-11"],"paddingInner":0.6,"paddingOuter":0.487,"align":0.728}},
    "y":{"field":"y","type":"quantitative","title":null,"scale":{"domain":[-30,1.75],"nice":false,"zero":false},"axis":{"orient":"right","values":[-30,-25,-20,-15,-10,-5,0],"labelExpr":"datum.value + ''","labelPadding":4}},
    "stroke":{"datum":"商品房待售面积：住宅：累计同比","scale":{"range":["#c62f2f"]},"legend":{"title":null,"orient":"none","legendX":123,"legendY":159.7,"symbolType":"stroke","symbolSize":324,"symbolStrokeWidth":2,"labelFontSize":6.7}}
   }}
 ],
 "resolve":{"scale":{"y":"independent"}}},
{"width":1,"height":1,"data":{"name":"e"},"mark":"point"},
{"width":1,"height":1,"data":{"name":"e"},"mark":"point"},

{"width":1,"height":60.3,"data":{"name":"e"},"mark":"point"},
{"width":1,"height":1,"data":{"name":"e"},"mark":"point"},
{"width":1,"height":1,"data":{"name":"e"},"mark":"point"},
{"width":1,"height":1,"data":{"name":"e"},"mark":"point"},
{"width":1,"height":1,"data":{"name":"e"},"mark":"point"},
{"width":1,"height":1,"data":{"name":"e"},"mark":"point"},
{"width":1,"height":1,"data":{"name":"e"},"mark":"point"},
{"width":1,"height":1,"data":{"name":"e"},"mark":"point"},
{"width":1,"height":1,"data":{"name":"e"},"mark":"point"},
{"width":1,"height":1,"data":{"name":"e"},"mark":"point"},
{"width":1,"height":1,"data":{"name":"e"},"mark":"point"},

{"width":1,"height":1,"data":{"name":"e"},"mark":"point"},
{"width":5,"height":1,"view":{"fill":"#333333","stroke":null},"data":{"name":"e"},"mark":"point"},
{"width":23,"height":1,"view":{"fill":"#333333","stroke":null},"data":{"name":"e"},"mark":"point"},
{"width":268,"height":1,"view":{"fill":"#333333","stroke":null},"data":{"name":"e"},"mark":"point"},
{"width":25,"height":1,"view":{"fill":"#333333","stroke":null},"data":{"name":"e"},"mark":"point"},
{"width":1,"height":1,"data":{"name":"e"},"mark":"point"},
{"width":9,"height":1,"view":{"fill":"#333333","stroke":null},"data":{"name":"e"},"mark":"point"},
{"width":21,"height":1,"view":{"fill":"#333333","stroke":null},"data":{"name":"e"},"mark":"point"},
{"width":269,"height":1,"view":{"fill":"#333333","stroke":null},"data":{"name":"e"},"mark":"point"},
{"width":17,"height":1,"view":{"fill":"#333333","stroke":null},"data":{"name":"e"},"mark":"point"},
{"width":1,"height":1,"data":{"name":"e"},"mark":"point"},

{"width":1,"height":53,"data":{"name":"e"},"mark":"point"},
{"width":1,"height":1,"data":{"name":"e"},"mark":"point"},
{"width":1,"height":9.5,"data":{"name":"one"},"mark":{"type":"text","text":"数据来源：东北证券，国家统计局","align":"left","baseline":"middle","font":"Liberation Serif, Noto Sans CJK SC","fontSize":12.5,"color":"#000000"},"encoding":{"x":{"datum":0,"type":"quantitative","scale":{"domain":[0,1]},"axis":null},"y":{"datum":0,"type":"quantitative","scale":{"domain":[0,1]},"axis":null}}},
{"width":1,"height":1,"data":{"name":"e"},"mark":"point"},
{"width":1,"height":1,"data":{"name":"e"},"mark":"point"},
{"width":1,"height":1,"data":{"name":"e"},"mark":"point"},
{"width":1,"height":1,"data":{"name":"e"},"mark":"point"},
{"width":1,"height":9.5,"data":{"name":"one"},"mark":{"type":"text","text":"数据来源：东北证券，国家统计局","align":"left","baseline":"middle","font":"Liberation Serif, Noto Sans CJK SC","fontSize":12.5,"color":"#000000"},"encoding":{"x":{"datum":0,"type":"quantitative","scale":{"domain":[0,1]},"axis":null},"y":{"datum":0,"type":"quantitative","scale":{"domain":[0,1]},"axis":null}}},
{"width":1,"height":1,"data":{"name":"e"},"mark":"point"},
{"width":1,"height":1,"data":{"name":"e"},"mark":"point"},
{"width":1,"height":1,"data":{"name":"e"},"mark":"point"},

{"width":1,"height":15,"data":{"name":"e"},"mark":"point"},
{"width":1,"height":1,"data":{"name":"e"},"mark":"point"},
{"width":1,"height":5.5,"data":{"name":"one"},"mark":{"type":"text","text":"图 25:  办公楼待售面积及同比","align":"left","baseline":"middle","font":"Liberation Serif, Noto Sans CJK SC","fontSize":14.5,"fontWeight":"bold","color":"#000000"},"encoding":{"x":{"datum":0,"type":"quantitative","scale":{"domain":[0,1]},"axis":null},"y":{"datum":0,"type":"quantitative","scale":{"domain":[0,1]},"axis":null}}},
{"width":1,"height":1,"data":{"name":"e"},"mark":"point"},
{"width":1,"height":1,"data":{"name":"e"},"mark":"point"},
{"width":1,"height":1,"data":{"name":"e"},"mark":"point"},
{"width":1,"height":1,"data":{"name":"e"},"mark":"point"},
{"width":1,"height":5.5,"data":{"name":"one"},"mark":{"type":"text","text":"图 26:  商业营业用房待售面积及同比","align":"left","baseline":"middle","font":"Liberation Serif, Noto Sans CJK SC","fontSize":14.5,"fontWeight":"bold","color":"#000000"},"encoding":{"x":{"datum":0,"type":"quantitative","scale":{"domain":[0,1]},"axis":null},"y":{"datum":0,"type":"quantitative","scale":{"domain":[0,1]},"axis":null}}},
{"width":1,"height":1,"data":{"name":"e"},"mark":"point"},
{"width":1,"height":1,"data":{"name":"e"},"mark":"point"},
{"width":1,"height":1,"data":{"name":"e"},"mark":"point"},

{"width":1,"height":1.5,"data":{"name":"e"},"mark":"point"},
{"width":5,"height":1.5,"view":{"fill":"#1a1a1a","stroke":null},"data":{"name":"e"},"mark":"point"},
{"width":23,"height":1.5,"view":{"fill":"#1a1a1a","stroke":null},"data":{"name":"e"},"mark":"point"},
{"width":268,"height":1.5,"view":{"fill":"#1a1a1a","stroke":null},"data":{"name":"e"},"mark":"point"},
{"width":25,"height":1.5,"view":{"fill":"#1a1a1a","stroke":null},"data":{"name":"e"},"mark":"point"},
{"width":1,"height":1,"data":{"name":"e"},"mark":"point"},
{"width":9,"height":1.5,"view":{"fill":"#1a1a1a","stroke":null},"data":{"name":"e"},"mark":"point"},
{"width":21,"height":1.5,"view":{"fill":"#1a1a1a","stroke":null},"data":{"name":"e"},"mark":"point"},
{"width":269,"height":1.5,"view":{"fill":"#1a1a1a","stroke":null},"data":{"name":"e"},"mark":"point"},
{"width":17,"height":1.5,"view":{"fill":"#1a1a1a","stroke":null},"data":{"name":"e"},"mark":"point"},
{"width":1,"height":1,"data":{"name":"e"},"mark":"point"},

{"width":1,"height":5.2,"data":{"name":"e"},"mark":"point"},
{"width":1,"height":1,"data":{"name":"e"},"mark":"point"},
{"width":1,"height":1,"data":{"name":"e"},"mark":"point"},
{"width":1,"height":1,"data":{"name":"e"},"mark":"point"},
{"width":1,"height":1,"data":{"name":"e"},"mark":"point"},
{"width":1,"height":1,"data":{"name":"e"},"mark":"point"},
{"width":1,"height":1,"data":{"name":"e"},"mark":"point"},
{"width":1,"height":1,"data":{"name":"e"},"mark":"point"},
{"width":1,"height":1,"data":{"name":"e"},"mark":"point"},
{"width":1,"height":1,"data":{"name":"e"},"mark":"point"},
{"width":1,"height":1,"data":{"name":"e"},"mark":"point"},

{"width":1,"height":122.6,"data":{"name":"e"},"mark":"point"},
{"width":1,"height":1,"data":{"name":"e"},"mark":"point"},
{"width":1,"height":1,"data":{"name":"e"},"mark":"point"},
{"width":268,"height":122.6,"data":{"name":"c25"},
 "layer":[
  {"mark":{"type":"bar","clip":true},
   "encoding":{
    "x":{"field":"m","type":"ordinal","title":null,"scale":{"domain":["2016-11","2016-12","2017-01","2017-02","2017-03","2017-04","2017-05","2017-06","2017-07","2017-08","2017-09","2017-10","2017-11","2017-12","2018-01","2018-02","2018-03","2018-04","2018-05","2018-06","2018-07","2018-08","2018-09","2018-10","2018-11","2018-12","2019-01","2019-02","2019-03","2019-04","2019-05","2019-06","2019-07","2019-08","2019-09","2019-10","2019-11"],"paddingInner":0.6,"paddingOuter":0.283,"align":0.55},"axis":{"values":["2016-11","2017-01","2017-03","2017-05","2017-07","2017-09","2017-11","2018-01","2018-03","2018-05","2018-07","2018-09","2018-11","2019-01","2019-03","2019-05","2019-07","2019-09","2019-11"],"labelAngle":270,"labelPadding":3,"labelFontSize":7}},
    "y":{"field":"v","type":"quantitative","title":null,"scale":{"domain":[3000,4000],"nice":false,"zero":false},"axis":{"values":[3000,3200,3400,3600,3800,4000],"grid":true,"labelExpr":"datum.value + ''","labelPadding":5.3}},
    "fill":{"datum":"商品房待售面积：办公楼：累计值","scale":{"range":["#4472c4"]},"legend":{"title":null,"orient":"none","legendX":-1,"legendY":163.3,"symbolType":"M-1,-0.22H1V0.22H-1Z","symbolSize":324}}
   }},
  {"mark":{"type":"line","strokeWidth":1.6},
   "encoding":{
    "x":{"field":"m","type":"ordinal","title":null,"scale":{"domain":["2016-11","2016-12","2017-01","2017-02","2017-03","2017-04","2017-05","2017-06","2017-07","2017-08","2017-09","2017-10","2017-11","2017-12","2018-01","2018-02","2018-03","2018-04","2018-05","2018-06","2018-07","2018-08","2018-09","2018-10","2018-11","2018-12","2019-01","2019-02","2019-03","2019-04","2019-05","2019-06","2019-07","2019-08","2019-09","2019-10","2019-11"],"paddingInner":0.6,"paddingOuter":0.283,"align":0.55}},
    "y":{"field":"y","type":"quantitative","title":null,"scale":{"domain":[-6,14],"nice":false,"zero":false},"axis":{"orient":"right","values":[-6,-4,-2,0,2,4,6,8,10,12,14],"labelExpr":"datum.value + ''","labelPadding":5}},
    "stroke":{"datum":"商品房待售面积：办公楼：累计同比","scale":{"range":["#c62f2f"]},"legend":{"title":null,"orient":"none","legendX":127,"legendY":163.3,"symbolType":"stroke","symbolSize":324,"symbolStrokeWidth":2}}
   }}
 ],
 "resolve":{"scale":{"y":"independent"}}},
{"width":1,"height":1,"data":{"name":"e"},"mark":"point"},
{"width":1,"height":1,"data":{"name":"e"},"mark":"point"},
{"width":1,"height":1,"data":{"name":"e"},"mark":"point"},
{"width":1,"height":1,"data":{"name":"e"},"mark":"point"},
{"width":258,"height":112.3,"data":{"name":"c26"},
 "layer":[
  {"mark":{"type":"bar","clip":true},
   "encoding":{
    "x":{"field":"m","type":"ordinal","title":null,"scale":{"domain":["2016-11","2016-12","2017-01","2017-02","2017-03","2017-04","2017-05","2017-06","2017-07","2017-08","2017-09","2017-10","2017-11","2017-12","2018-01","2018-02","2018-03","2018-04","2018-05","2018-06","2018-07","2018-08","2018-09","2018-10","2018-11","2018-12","2019-01","2019-02","2019-03","2019-04","2019-05","2019-06","2019-07","2019-08","2019-09","2019-10","2019-11"],"paddingInner":0.6,"paddingOuter":0.687,"align":0.813},"axis":{"values":["2016-11","2017-01","2017-03","2017-05","2017-07","2017-09","2017-11","2018-01","2018-03","2018-05","2018-07","2018-09","2018-11","2019-01","2019-03","2019-05","2019-07","2019-09","2019-11"],"labelAngle":270,"labelPadding":3,"labelFontSize":7}},
    "y":{"field":"v","type":"quantitative","title":null,"scale":{"domain":[10000,17326],"nice":false,"zero":false},"axis":{"values":[10000,11000,12000,13000,14000,15000,16000,17000],"grid":true,"labelExpr":"datum.value + ''","labelPadding":0.5}},
    "fill":{"datum":"商品房待售面积：商业营业用房：累计值","scale":{"range":["#4472c4"]},"legend":{"title":null,"orient":"none","legendX":55,"legendY":151.3,"symbolType":"M-1,-0.22H1V0.22H-1Z","symbolSize":256}}
   }},
  {"mark":{"type":"line","strokeWidth":1.6},
   "encoding":{
    "x":{"field":"m","type":"ordinal","title":null,"scale":{"domain":["2016-11","2016-12","2017-01","2017-02","2017-03","2017-04","2017-05","2017-06","2017-07","2017-08","2017-09","2017-10","2017-11","2017-12","2018-01","2018-02","2018-03","2018-04","2018-05","2018-06","2018-07","2018-08","2018-09","2018-10","2018-11","2018-12","2019-01","2019-02","2019-03","2019-04","2019-05","2019-06","2019-07","2019-08","2019-09","2019-10","2019-11"],"paddingInner":0.6,"paddingOuter":0.687,"align":0.813}},
    "y":{"field":"y","type":"quantitative","title":null,"scale":{"domain":[-20,21.86],"nice":false,"zero":false},"axis":{"orient":"right","values":[-20,-10,0,10,20],"labelExpr":"datum.value + ''","labelPadding":6.7}},
    "stroke":{"datum":"商品房待售面积：商业营业用房：累计同比","scale":{"range":["#c62f2f"]},"legend":{"title":null,"orient":"none","legendX":53,"legendY":161.3,"symbolType":"stroke","symbolSize":324,"symbolStrokeWidth":2}}
   }}
 ],
 "resolve":{"scale":{"y":"independent"}}},
{"width":1,"height":1,"data":{"name":"e"},"mark":"point"},
{"width":1,"height":1,"data":{"name":"e"},"mark":"point"},

{"width":1,"height":60.7,"data":{"name":"e"},"mark":"point"},
{"width":1,"height":1,"data":{"name":"e"},"mark":"point"},
{"width":1,"height":1,"data":{"name":"e"},"mark":"point"},
{"width":1,"height":1,"data":{"name":"e"},"mark":"point"},
{"width":1,"height":1,"data":{"name":"e"},"mark":"point"},
{"width":1,"height":1,"data":{"name":"e"},"mark":"point"},
{"width":1,"height":1,"data":{"name":"e"},"mark":"point"},
{"width":1,"height":1,"data":{"name":"e"},"mark":"point"},
{"width":1,"height":1,"data":{"name":"e"},"mark":"point"},
{"width":1,"height":1,"data":{"name":"e"},"mark":"point"},
{"width":1,"height":1,"data":{"name":"e"},"mark":"point"},

{"width":1,"height":1,"data":{"name":"e"},"mark":"point"},
{"width":5,"height":1,"view":{"fill":"#333333","stroke":null},"data":{"name":"e"},"mark":"point"},
{"width":23,"height":1,"view":{"fill":"#333333","stroke":null},"data":{"name":"e"},"mark":"point"},
{"width":268,"height":1,"view":{"fill":"#333333","stroke":null},"data":{"name":"e"},"mark":"point"},
{"width":25,"height":1,"view":{"fill":"#333333","stroke":null},"data":{"name":"e"},"mark":"point"},
{"width":1,"height":1,"data":{"name":"e"},"mark":"point"},
{"width":9,"height":1,"view":{"fill":"#333333","stroke":null},"data":{"name":"e"},"mark":"point"},
{"width":21,"height":1,"view":{"fill":"#333333","stroke":null},"data":{"name":"e"},"mark":"point"},
{"width":269,"height":1,"view":{"fill":"#333333","stroke":null},"data":{"name":"e"},"mark":"point"},
{"width":17,"height":1,"view":{"fill":"#333333","stroke":null},"data":{"name":"e"},"mark":"point"},
{"width":1,"height":1,"data":{"name":"e"},"mark":"point"},

{"width":1,"height":40,"data":{"name":"e"},"mark":"point"},
{"width":1,"height":1,"data":{"name":"e"},"mark":"point"},
{"width":1,"height":9.5,"data":{"name":"one"},"mark":{"type":"text","text":"数据来源：东北证券，国家统计局","align":"left","baseline":"middle","font":"Liberation Serif, Noto Sans CJK SC","fontSize":12.5,"color":"#000000"},"encoding":{"x":{"datum":0,"type":"quantitative","scale":{"domain":[0,1]},"axis":null},"y":{"datum":0,"type":"quantitative","scale":{"domain":[0,1]},"axis":null}}},
{"width":1,"height":1,"data":{"name":"e"},"mark":"point"},
{"width":1,"height":1,"data":{"name":"e"},"mark":"point"},
{"width":1,"height":1,"data":{"name":"e"},"mark":"point"},
{"width":1,"height":1,"data":{"name":"e"},"mark":"point"},
{"width":1,"height":9.5,"data":{"name":"one"},"mark":{"type":"text","text":"数据来源：东北证券，国家统计局","align":"left","baseline":"middle","font":"Liberation Serif, Noto Sans CJK SC","fontSize":12.5,"color":"#000000"},"encoding":{"x":{"datum":0,"type":"quantitative","scale":{"domain":[0,1]},"axis":null},"y":{"datum":0,"type":"quantitative","scale":{"domain":[0,1]},"axis":null}}},
{"width":1,"height":1,"data":{"name":"e"},"mark":"point"},
{"width":1,"height":1,"data":{"name":"e"},"mark":"point"},
{"width":1,"height":1,"data":{"name":"e"},"mark":"point"},

{"width":1,"height":62,"data":{"name":"e"},"mark":"point"},
{"width":1,"height":1,"data":{"name":"e"},"mark":"point"},
{"width":1,"height":12,"data":{"name":"one"},"mark":{"type":"text","text":["2019 年 1-11 月，东部地区商品房销售面积 58394 万平方米，同比下降 1.3%，降幅","收窄 0.8 个百分点；销售额 73341 亿元，同比增长 7.1%，增速上升 0.3 个百分点；"],"lineHeight":24,"align":"left","baseline":"middle","font":"Liberation Serif, Noto Sans CJK SC","fontSize":18,"color":"#000000"},"encoding":{"x":{"datum":0,"type":"quantitative","scale":{"domain":[0,1]},"axis":null},"y":{"datum":0,"type":"quantitative","scale":{"domain":[0,1]},"axis":null}}},
{"width":1,"height":1,"data":{"name":"e"},"mark":"point"},
{"width":1,"height":1,"data":{"name":"e"},"mark":"point"},
{"width":1,"height":1,"data":{"name":"e"},"mark":"point"},
{"width":1,"height":1,"data":{"name":"e"},"mark":"point"},
{"width":1,"height":1,"data":{"name":"e"},"mark":"point"},
{"width":1,"height":1,"data":{"name":"e"},"mark":"point"},
{"width":1,"height":1,"data":{"name":"e"},"mark":"point"},
{"width":1,"height":1,"data":{"name":"e"},"mark":"point"},

{"width":1,"height":2,"data":{"name":"e"},"mark":"point"},
{"width":5,"height":2,"view":{"fill":"#3f78c0","stroke":null},"data":{"name":"e"},"mark":"point"},
{"width":23,"height":2,"view":{"fill":"#3f78c0","stroke":null},"data":{"name":"e"},"mark":"point"},
{"width":268,"height":2,"view":{"fill":"#3f78c0","stroke":null},"data":{"name":"e"},"mark":"point"},
{"width":25,"height":2,"view":{"fill":"#3f78c0","stroke":null},"data":{"name":"e"},"mark":"point"},
{"width":22,"height":2,"view":{"fill":"#3f78c0","stroke":null},"data":{"name":"e"},"mark":"point"},
{"width":9,"height":2,"view":{"fill":"#3f78c0","stroke":null},"data":{"name":"e"},"mark":"point"},
{"width":21,"height":2,"view":{"fill":"#3f78c0","stroke":null},"data":{"name":"e"},"mark":"point"},
{"width":269,"height":2,"view":{"fill":"#3f78c0","stroke":null},"data":{"name":"e"},"mark":"point"},
{"width":17,"height":2,"view":{"fill":"#3f78c0","stroke":null},"data":{"name":"e"},"mark":"point"},
{"width":12,"height":2,"view":{"fill":"#3f78c0","stroke":null},"data":{"name":"e"},"mark":"point"},

{"width":1,"height":15,"data":{"name":"e"},"mark":"point"},
{"width":1,"height":1,"data":{"name":"e"},"mark":"point"},
{"width":1,"height":1,"data":{"name":"e"},"mark":"point"},
{"width":198,"height":9,"data":{"name":"one"},"mark":{"type":"text","text":"请务必阅读正文后的声明及说明","align":"center","baseline":"middle","font":"Noto Sans CJK SC","fontSize":12,"fontWeight":"bold","color":"#1f4e9a"},"encoding":{"x":{"datum":0.5,"type":"quantitative","scale":{"domain":[0,1]},"axis":null},"y":{"datum":0,"type":"quantitative","scale":{"domain":[0,1]},"axis":null}}},
{"width":1,"height":1,"data":{"name":"e"},"mark":"point"},
{"width":1,"height":1,"data":{"name":"e"},"mark":"point"},
{"width":1,"height":1,"data":{"name":"e"},"mark":"point"},
{"width":1,"height":1,"data":{"name":"e"},"mark":"point"},
{"width":269,"height":9,"data":{"name":"one"},"mark":{"type":"text","text":"7 / 14","align":"right","baseline":"middle","font":"Liberation Serif","fontSize":12.5,"fontWeight":"bold","color":"#1f4e9a"},"encoding":{"x":{"datum":1,"type":"quantitative","scale":{"domain":[0,1]},"axis":null},"y":{"datum":0,"type":"quantitative","scale":{"domain":[0,1]},"axis":null}}}
]
}
